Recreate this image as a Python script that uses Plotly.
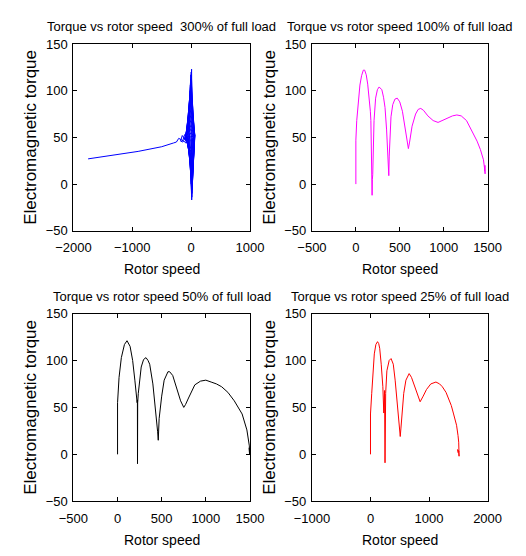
import plotly.graph_objects as go

# ---------------- data ----------------
# Panel 1: 300% of full load (blue)
speed_300 = [0, 15, 8, -30, 10, 45, 2, -40, 12, 55, -4, -50, 14, 60, -8, -58, 16, 62, -12, -66, 18,
             64, -16, -74, 20, 62, -20, -80, 22, 60, -24, -86, 22, 56, -26, -90, 20, 50, -30,
             -94, 16, 44, -34, -96, 10, 36, -38, -98, 4, 28, -44, -100, -4, 18, -50, -102,
             -12, 6, -60, -105, -24, -10, -80, -115, -50, -40, -110, -140, -90, -80, -150,
             -180, -140, -130, -210, -250, -300, -500, -900, -1450, -1750]
torque_300 = [0, 60, 123, 55, -17, 52, 120, 52, -14, 50, 117, 52, -10, 52, 112, 52, -6, 52, 106, 52, -1,
              52, 100, 52, 4, 52, 95, 52, 9, 52, 90, 52, 14, 52, 84, 51, 19, 51, 79,
              51, 24, 51, 74, 50, 28, 50, 69, 50, 32, 50, 65, 49, 35, 49, 61, 49,
              38, 48, 58, 48, 41, 48, 55, 48, 43, 47, 53, 47, 44, 46, 52,
              46, 45, 46, 49, 45, 44, 40, 35, 30, 27]

# Panel 2: 100% of full load (magenta)
speed_100 = [0, 0, 10, 28, 46, 65, 85, 100, 118, 135, 153, 165, 171, 178, 183, 185, 188, 192,
             199, 207, 225, 245, 265, 280, 296, 315, 332, 350, 360, 367, 375, 380, 388, 400,
             420, 445, 471, 500, 530, 560, 585, 598, 612, 640, 680, 710, 739, 770, 820, 880,
             936, 980, 1050, 1100, 1150, 1200, 1260, 1329, 1380, 1418, 1453, 1468, 1472, 1470, 1467]
torque_100 = [0, 47, 68, 92, 106, 116, 122, 122, 117, 107, 92, 78, 68, 33, 5, -12, 5, 10,
              33, 68, 92, 101, 104, 103, 101, 93, 82, 58, 40, 30, 9, 30, 55, 72,
              85, 91, 92, 88, 78, 62, 45, 38, 45, 62, 75, 80, 81, 79, 73, 68,
              66, 68, 71, 73, 74, 73, 68, 56, 46, 37, 26, 15, 11, 20, 14]

# Panel 3: 50% of full load (black)
speed_50 = [0, 0, 0, 17, 43, 78, 107, 142, 171, 196, 214, 222, 225, 226, 228, 235, 242, 268,
            295, 322, 345, 364, 400, 429, 445, 454, 461, 466, 471, 500, 528, 571, 590, 625,
            678, 714, 750, 770, 804, 875, 940, 1000, 1060, 1120, 1179, 1250, 1322, 1411,
            1465, 1493, 1495, 1490, 1497, 1492, 1496]
torque_50 = [0, 17, 55, 82, 103, 117, 121, 115, 100, 79, 58, 55, 58, -10, 55, 65, 72, 93,
             101, 103, 100, 96, 75, 51, 35, 24, 15, 28, 38, 62, 79, 88, 88, 84,
             69, 57, 50, 53, 60, 74, 78, 79, 77, 75, 72, 66, 57, 43,
             26, 9, 0, 5, 2, 7, 0]

# Panel 4: 25% of full load (red)
speed_25 = [0, 0, 21, 37, 65, 92, 120, 140, 157, 183, 211, 227, 240, 248, 252, 259, 280, 319,
            351, 389, 421, 443, 470, 486, 500, 508, 520, 540, 568, 605, 660, 700, 741, 790,
            848, 900, 956, 1030, 1118, 1180, 1227, 1290, 1334, 1380, 1415, 1470, 1495, 1507,
            1513, 1505, 1486, 1495, 1510]
torque_25 = [0, 43, 65, 86, 107, 117, 120, 118, 113, 96, 72, 44, 68, -9, 50, 65, 89, 100,
             102, 96, 79, 62, 41, 27, 22, 19, 28, 41, 65, 79, 86, 82, 75, 65,
             56, 62, 69, 75, 77, 75, 72, 66, 60, 52, 44, 31, 20, 13,
             -2, 4, 5, 2, 3]

titles = ["Torque vs rotor speed  300% of full load",
          "Torque vs rotor speed 100% of full load",
          "Torque vs rotor speed 50% of full load",
          "Torque vs rotor speed 25% of full load"]
x_ranges = [[-2000, 1000], [-500, 1500], [-500, 1500], [-1000, 2000]]
x_dticks = [1000, 500, 500, 1000]
y_range = [-50, 150]
x_label = "Rotor speed"
y_label = "Electromagnetic torque"

series = [(speed_300, torque_300, "#0000ff"),
          (speed_100, torque_100, "#ff00ff"),
          (speed_50, torque_50, "#000000"),
          (speed_25, torque_25, "#ff0000")]

# ---------------- layout geometry (pixels) ----------------
W, H = 526, 556
FONT = "Liberation Sans, Arial, sans-serif"
xdoms_px = [(59, 247), (313, 500), (59, 247), (313, 500)]
ydoms_px = [(38, 230), (38, 230), (315, 508), (315, 508)]
title_py = [20, 20, 298, 298]
xlabel_py = [269, 269, 548, 548]

fig = go.Figure()
annotations = []
for i, (xs, ys, col) in enumerate(series):
    n = "" if i == 0 else str(i + 1)
    fig.add_trace(go.Scatter(x=xs, y=ys, mode="lines",
                             line=dict(color=col, width=1),
                             xaxis="x" + n, yaxis="y" + n, showlegend=False))
    x0, x1 = xdoms_px[i]
    yt, yb = ydoms_px[i]
    xd = [x0 / W, x1 / W]
    yd = [1 - yb / H, 1 - yt / H]
    common = dict(showline=True, linecolor="black", linewidth=1, mirror="ticks",
                  ticks="inside", ticklen=4, tickcolor="black", showgrid=False,
                  zeroline=False, tickfont=dict(family=FONT, size=13, color="black"))
    fig.update_layout(**{
        "xaxis" + n: dict(domain=xd, range=x_ranges[i], dtick=x_dticks[i], tick0=0,
                          anchor="y" + n, ticklabelstandoff=5, **common),
        "yaxis" + n: dict(domain=yd, range=y_range, dtick=50, tick0=0,
                          anchor="x" + n, ticklabelstandoff=2,
                          title=dict(text=y_label, standoff=4,
                                     font=dict(family=FONT, size=17, color="black")),
                          **common),
    })
    cx = (x0 + x1) / 2 / W
    annotations.append(dict(text=titles[i], x=cx, y=1 - title_py[i] / H, xref="paper", yref="paper",
                            showarrow=False, xanchor="center", yanchor="middle",
                            font=dict(family=FONT, size=13, color="black")))
    annotations.append(dict(text=x_label, x=cx, y=1 - xlabel_py[i] / H, xref="paper", yref="paper",
                            showarrow=False, xanchor="center", yanchor="middle",
                            font=dict(family=FONT, size=14, color="black")))

fig.update_layout(width=W, height=H, margin=dict(l=0, r=0, t=0, b=0),
                  paper_bgcolor="white", plot_bgcolor="white",
                  annotations=annotations, showlegend=False)

fig.write_html("out.html", config={"displayModeBar": False})
